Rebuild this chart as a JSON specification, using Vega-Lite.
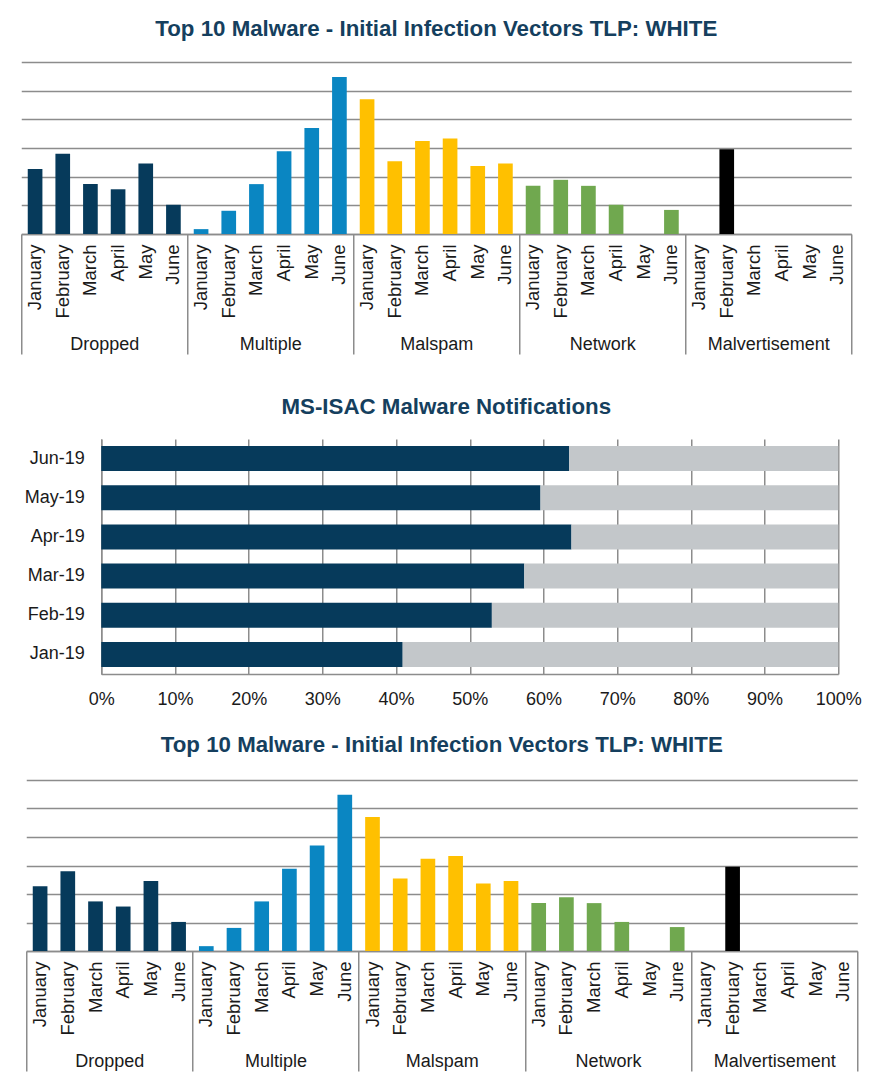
{
  "$schema": "https://vega.github.io/schema/vega-lite/v6.json",
  "background": "white",
  "padding": {"left": 20.25, "top": 17, "right": 0, "bottom": 0},
  "config": {
    "view": {"stroke": null},
    "font": "Liberation Sans",
    "title": {"font": "Liberation Sans", "fontSize": 22.3, "fontWeight": "bold", "color": "#153f5e", "anchor": "middle"},
    "axis": {"labelFont": "Liberation Sans", "labelColor": "#1a1a1a", "labelFontSize": 18}
  },
  "datasets": {
    "vectors": [
      {"vector": "Dropped", "month": "January", "count": 22.7},
      {"vector": "Dropped", "month": "February", "count": 28.0},
      {"vector": "Dropped", "month": "March", "count": 17.4},
      {"vector": "Dropped", "month": "April", "count": 15.6},
      {"vector": "Dropped", "month": "May", "count": 24.6},
      {"vector": "Dropped", "month": "June", "count": 10.2},
      {"vector": "Multiple", "month": "January", "count": 1.7},
      {"vector": "Multiple", "month": "February", "count": 8.1},
      {"vector": "Multiple", "month": "March", "count": 17.4},
      {"vector": "Multiple", "month": "April", "count": 28.9},
      {"vector": "Multiple", "month": "May", "count": 37.0},
      {"vector": "Multiple", "month": "June", "count": 54.8},
      {"vector": "Malspam", "month": "January", "count": 47.0},
      {"vector": "Malspam", "month": "February", "count": 25.4},
      {"vector": "Malspam", "month": "March", "count": 32.4},
      {"vector": "Malspam", "month": "April", "count": 33.3},
      {"vector": "Malspam", "month": "May", "count": 23.7},
      {"vector": "Malspam", "month": "June", "count": 24.6},
      {"vector": "Network", "month": "January", "count": 16.8},
      {"vector": "Network", "month": "February", "count": 18.9},
      {"vector": "Network", "month": "March", "count": 16.8},
      {"vector": "Network", "month": "April", "count": 10.2},
      {"vector": "Network", "month": "May", "count": 0},
      {"vector": "Network", "month": "June", "count": 8.4},
      {"vector": "Malvertisement", "month": "January", "count": 0},
      {"vector": "Malvertisement", "month": "February", "count": 29.6},
      {"vector": "Malvertisement", "month": "March", "count": 0},
      {"vector": "Malvertisement", "month": "April", "count": 0},
      {"vector": "Malvertisement", "month": "May", "count": 0},
      {"vector": "Malvertisement", "month": "June", "count": 0}
    ],
    "notifications": [
      {"month": "Jan-19", "series": "Top 10 Malware", "share": 40.9},
      {"month": "Jan-19", "series": "Other Malware", "share": 59.1},
      {"month": "Feb-19", "series": "Top 10 Malware", "share": 53.0},
      {"month": "Feb-19", "series": "Other Malware", "share": 47.0},
      {"month": "Mar-19", "series": "Top 10 Malware", "share": 57.4},
      {"month": "Mar-19", "series": "Other Malware", "share": 42.6},
      {"month": "Apr-19", "series": "Top 10 Malware", "share": 63.8},
      {"month": "Apr-19", "series": "Other Malware", "share": 36.2},
      {"month": "May-19", "series": "Top 10 Malware", "share": 59.6},
      {"month": "May-19", "series": "Other Malware", "share": 40.4},
      {"month": "Jun-19", "series": "Top 10 Malware", "share": 63.5},
      {"month": "Jun-19", "series": "Other Malware", "share": 36.5}
    ]
  },
  "spacing": 25,
  "resolve": {"scale": {"color": "independent"}},
  "vconcat": [
    {
      "data": {"name": "vectors"},
      "transform": [{"calculate": "datum.vector + '|' + datum.month", "as": "slot"}],
      "width": 830,
      "height": 172,
      "title": {"text": "Top 10 Malware - Initial Infection Vectors TLP: WHITE", "offset": 22},
      "layer": [
        {
          "mark": {"type": "bar"},
          "encoding": {
            "x": {"field": "slot", "type": "nominal", "sort": null, "title": null,
              "scale": {"paddingInner": 0.47, "paddingOuter": 0.235},
              "axis": {"orient": "bottom", "labelExpr": "split(datum.value, '|')[1]", "labelAngle": -90, "labelPadding": 10, "labelFontSize": 18.5, "ticks": false, "domain": true, "domainColor": "#8c8c8c", "domainWidth": 1.5, "labelOverlap": false, "minExtent": 136.6, "grid": false}},
            "y": {"field": "count", "type": "quantitative", "title": null,
              "scale": {"domain": [0, 60], "nice": false},
              "axis": {"values": [0, 10, 20, 30, 40, 50, 60], "labels": false, "ticks": false, "domain": false, "grid": true, "gridColor": "#8c8c8c", "gridWidth": 1.5, "minExtent": 0, "maxExtent": 0}},
            "color": {"field": "vector", "type": "nominal",
              "scale": {"domain": ["Dropped", "Multiple", "Malspam", "Network", "Malvertisement"], "range": ["#063a5b", "#0a86c2", "#ffc000", "#70a84f", "#000000"]},
              "legend": null}
          }
        },
        {
          "mark": {"type": "rule", "opacity": 0},
          "encoding": {
            "x": {"field": "vector", "type": "nominal", "title": null,
              "sort": ["Dropped", "Multiple", "Malspam", "Network", "Malvertisement"],
              "scale": {"paddingInner": 0, "paddingOuter": 0},
              "axis": {"orient": "bottom", "domain": false, "ticks": true, "tickBand": "extent", "tickSize": 120, "tickColor": "#8c8c8c", "tickWidth": 1.5, "labelPadding": -18.8, "labelAngle": 0, "grid": false}}
          }
        }
      ],
      "resolve": {"scale": {"x": "independent"}, "axis": {"x": "independent"}}
    },
    {
      "data": {"name": "notifications"},
      "width": 817,
      "height": 235,
      "title": {"text": "MS-ISAC Malware Notifications", "offset": 20.4, "dx": 16.5},
      "mark": {"type": "bar"},
      "encoding": {
        "y": {"field": "month", "type": "nominal", "title": null,
          "sort": ["Jun-19", "May-19", "Apr-19", "Mar-19", "Feb-19", "Jan-19"],
          "scale": {"paddingInner": 0.36, "paddingOuter": 0.18},
          "axis": {"offset": -80, "ticks": false, "domain": true, "domainColor": "#8c8c8c", "domainWidth": 1.5, "labelPadding": 17, "minExtent": 0}},
        "x": {"field": "share", "type": "quantitative", "stack": "normalize", "title": null,
          "scale": {"domain": [0, 1], "nice": false, "range": [80, 817]},
          "axis": {"format": ".0%", "values": [0, 0.1, 0.2, 0.3, 0.4, 0.5, 0.6, 0.7, 0.8, 0.9, 1], "labelFlush": false, "grid": true, "gridColor": "#8c8c8c", "gridWidth": 1.5, "ticks": false, "domain": true, "domainColor": "#8c8c8c", "domainWidth": 1.5, "labelPadding": 16.5}},
        "color": {"field": "series", "type": "nominal",
          "scale": {"domain": ["Top 10 Malware", "Other Malware"], "range": ["#063a5b", "#c3c7ca"]},
          "legend": null},
        "order": {"field": "series", "sort": "descending"}
      }
    },
    {
      "data": {"name": "vectors"},
      "transform": [{"calculate": "datum.vector + '|' + datum.month", "as": "slot"}],
      "width": 836,
      "height": 171,
      "title": {"text": "Top 10 Malware - Initial Infection Vectors TLP: WHITE", "offset": 23.4, "dx": 2.5},
      "layer": [
        {
          "mark": {"type": "bar"},
          "encoding": {
            "x": {"field": "slot", "type": "nominal", "sort": null, "title": null,
              "scale": {"paddingInner": 0.47, "paddingOuter": 0.235, "range": [5, 836]},
              "axis": {"orient": "bottom", "labelExpr": "split(datum.value, '|')[1]", "labelAngle": -90, "labelPadding": 10, "labelFontSize": 18.5, "ticks": false, "domain": true, "domainColor": "#8c8c8c", "domainWidth": 1.5, "labelOverlap": false, "grid": false}},
            "y": {"field": "count", "type": "quantitative", "title": null,
              "scale": {"domain": [0, 60], "nice": false},
              "axis": {"values": [0, 10, 20, 30, 40, 50, 60], "labels": false, "ticks": false, "domain": false, "grid": true, "gridColor": "#8c8c8c", "gridWidth": 1.5, "minExtent": 0, "maxExtent": 0}},
            "color": {"field": "vector", "type": "nominal",
              "scale": {"domain": ["Dropped", "Multiple", "Malspam", "Network", "Malvertisement"], "range": ["#063a5b", "#0a86c2", "#ffc000", "#70a84f", "#000000"]},
              "legend": null}
          }
        },
        {
          "mark": {"type": "rule", "opacity": 0},
          "encoding": {
            "x": {"field": "vector", "type": "nominal", "title": null,
              "sort": ["Dropped", "Multiple", "Malspam", "Network", "Malvertisement"],
              "scale": {"paddingInner": 0, "paddingOuter": 0, "range": [5, 836]},
              "axis": {"orient": "bottom", "domain": false, "ticks": true, "tickBand": "extent", "tickSize": 120, "tickColor": "#8c8c8c", "tickWidth": 1.5, "labelPadding": -18.8, "labelAngle": 0, "grid": false}}
          }
        }
      ],
      "resolve": {"scale": {"x": "independent"}, "axis": {"x": "independent"}}
    }
  ]
}
